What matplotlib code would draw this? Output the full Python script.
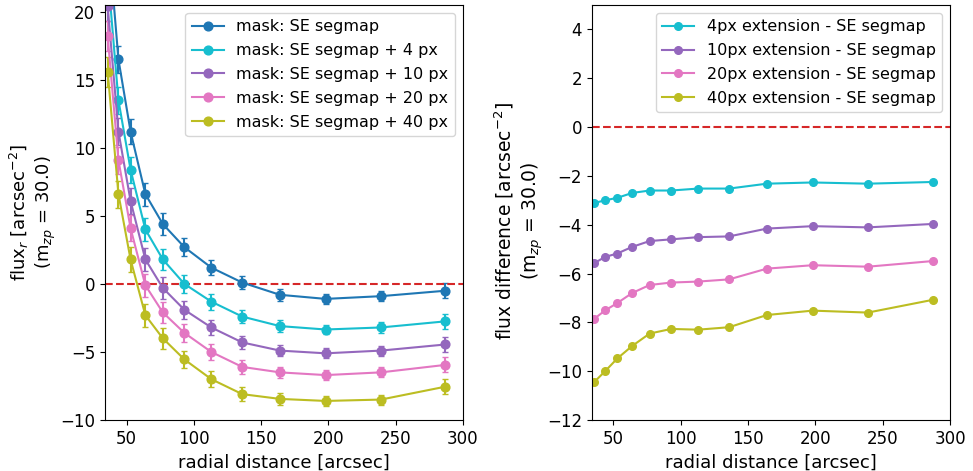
import matplotlib
matplotlib.use("Agg")
import matplotlib.pyplot as plt

# Radial bins [arcsec]
radius = [36, 44, 53, 64, 77, 93, 113, 136, 164, 198, 239, 287]

# Surface-brightness flux profiles for each mask
flux_se = [26.0, 16.5, 11.2, 6.6, 4.4, 2.7, 1.2, 0.1, -0.8, -1.1, -0.9, -0.5]
flux_4px = [22.9, 13.5, 8.4, 4.0, 1.8, 0.0, -1.3, -2.4, -3.1, -3.35, -3.2, -2.75]
flux_10px = [20.4, 11.2, 6.1, 1.8, -0.3, -1.9, -3.2, -4.3, -4.9, -5.1, -4.9, -4.45]
flux_20px = [18.2, 9.1, 4.1, -0.1, -2.1, -3.6, -5.0, -6.1, -6.5, -6.7, -6.5, -5.95]
flux_40px = [15.6, 6.6, 1.8, -2.3, -4.0, -5.55, -7.0, -8.1, -8.45, -8.6, -8.5, -7.55]
flux_err = [1.1, 1.0, 0.95, 0.85, 0.78, 0.65, 0.58, 0.5, 0.42, 0.36, 0.37, 0.55]

# Differences relative to the SE segmap mask
diff_4px = [-3.11, -3.0, -2.9, -2.7, -2.6, -2.6, -2.52, -2.52, -2.32, -2.27, -2.32, -2.25]
diff_10px = [-5.57, -5.32, -5.18, -4.91, -4.67, -4.60, -4.51, -4.48, -4.16, -4.06, -4.11, -3.97]
diff_20px = [-7.85, -7.51, -7.21, -6.80, -6.47, -6.37, -6.33, -6.24, -5.80, -5.66, -5.72, -5.49]
diff_40px = [-10.44, -10.0, -9.48, -8.97, -8.46, -8.27, -8.30, -8.20, -7.70, -7.52, -7.60, -7.08]

profile_labels = ["mask: SE segmap", "mask: SE segmap + 4 px",
                  "mask: SE segmap + 10 px", "mask: SE segmap + 20 px",
                  "mask: SE segmap + 40 px"]
diff_labels = ["4px extension - SE segmap", "10px extension - SE segmap",
               "20px extension - SE segmap", "40px extension - SE segmap"]
colors = ["tab:blue", "tab:cyan", "tab:purple", "tab:pink", "tab:olive"]

fig = plt.figure(figsize=(9.73, 4.71), dpi=100)
ax1 = fig.add_axes([0.1079, 0.1083, 0.3679, 0.8811])
ax2 = fig.add_axes([0.6081, 0.1083, 0.3683, 0.8811])

handles = []
for vals, lab, c in zip([flux_se, flux_4px, flux_10px, flux_20px, flux_40px],
                        profile_labels, colors):
    cont = ax1.errorbar(radius, vals, yerr=flux_err, fmt="-o", color=c,
                        ms=6.3, lw=1.5, capsize=2.3, elinewidth=1.5)
    line = cont.lines[0]
    line.set_label(lab)
    handles.append(line)
ax1.axhline(0, color="tab:red", ls="--", lw=1.5)
ax1.set_xlim(34, 300)
ax1.set_ylim(-10, 20.5)
ax1.set_xlabel("radial distance [arcsec]", fontsize=13)
ax1.set_ylabel("flux$_r$ [arcsec$^{-2}$]\n(m$_{zp}$ = 30.0)", fontsize=13,
               labelpad=1.5)
ax1.tick_params(labelsize=12)
ax1.legend(handles=handles, loc="upper right", fontsize=11.5, labelspacing=0.55)

for vals, lab, c in zip([diff_4px, diff_10px, diff_20px, diff_40px],
                        diff_labels, colors[1:]):
    ax2.plot(radius, vals, "-o", color=c, label=lab, ms=5.5, lw=1.5)
ax2.axhline(0, color="tab:red", ls="--", lw=1.5)
ax2.set_xlim(34, 300)
ax2.set_ylim(-12, 5)
ax2.set_yticks([-12, -10, -8, -6, -4, -2, 0, 2, 4])
ax2.set_xlabel("radial distance [arcsec]", fontsize=13)
ax2.set_ylabel("flux difference [arcsec$^{-2}$]\n(m$_{zp}$ = 30.0)",
               fontsize=13.5, y=0.48, labelpad=1.5)
ax2.tick_params(labelsize=12)
ax2.legend(loc="upper right", fontsize=11.5, labelspacing=0.55)

fig.savefig("out.png", dpi=100)
